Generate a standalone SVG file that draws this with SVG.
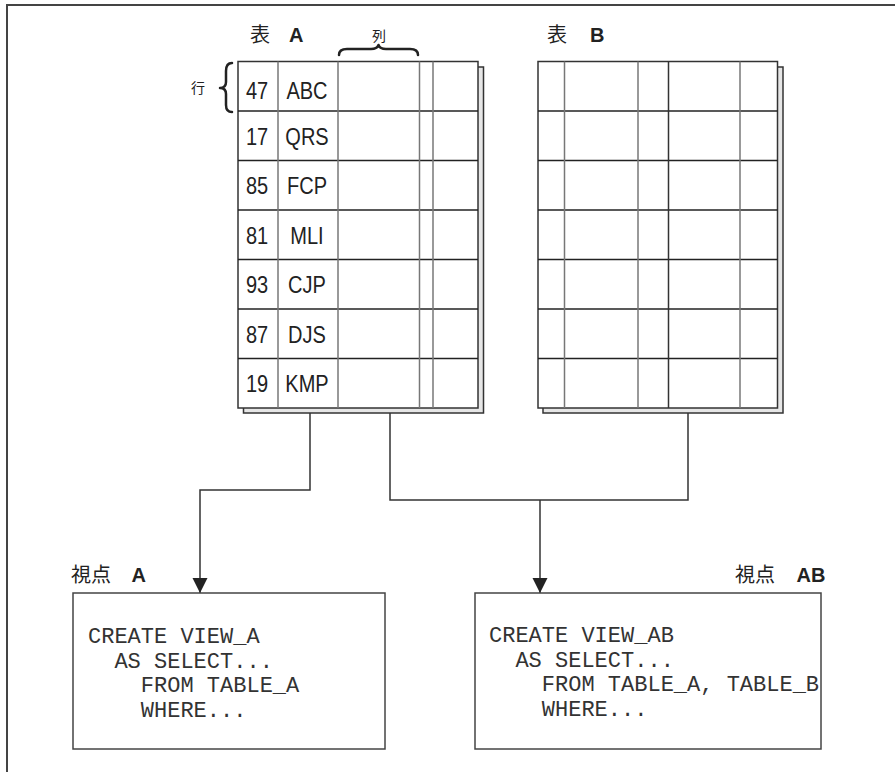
<svg xmlns="http://www.w3.org/2000/svg" width="895" height="772" viewBox="0 0 895 772">
<style>
.frame{fill:none;stroke:#444;stroke-width:2}
.shadow{fill:#e6e6e6;stroke:#333;stroke-width:1.5}
.tbl{fill:#fff;stroke:#333;stroke-width:1.5}
.hl{stroke:#222;stroke-width:1.5}
.vl{stroke:#777;stroke-width:1.5}
.cell{font-family:"Liberation Sans",Arial,sans-serif;font-size:20px;fill:#222;text-anchor:middle}
.cjk{font-family:"Noto Sans CJK JP","Noto Sans CJK SC",sans-serif;font-size:20px;fill:#222}
.cjks{font-family:"Noto Sans CJK JP","Noto Sans CJK SC",sans-serif;font-size:14px;fill:#222}
.bold{font-family:"Liberation Sans",Arial,sans-serif;font-size:20px;font-weight:bold;fill:#222}
.code{font-family:"Liberation Mono","Courier New",monospace;font-size:22px;fill:#333;white-space:pre}
.box{fill:#fff;stroke:#444;stroke-width:1.5}
.conn{fill:none;stroke:#333;stroke-width:1.5}
.brace{fill:none;stroke:#222;stroke-width:2.5;stroke-linecap:round;stroke-linejoin:round}
</style>
<defs>
<marker id="arr" markerWidth="16" markerHeight="19" refX="15" refY="7.5" orient="auto" markerUnits="userSpaceOnUse">
<path d="M0,0 L15,7.5 L0,15 Z" fill="#222"/>
</marker>
</defs>

<path class="frame" d="M7,772 V5 H895"/>

<g id="tableA">
<rect class="shadow" x="243.5" y="67" width="240" height="346"/>
<rect class="tbl" x="238" y="61.5" width="240" height="346.5"/>
<g class="hl">
<line x1="238" y1="111" x2="478" y2="111"/>
<line x1="238" y1="160.5" x2="478" y2="160.5"/>
<line x1="238" y1="210" x2="478" y2="210"/>
<line x1="238" y1="259.5" x2="478" y2="259.5"/>
<line x1="238" y1="309" x2="478" y2="309"/>
<line x1="238" y1="358.5" x2="478" y2="358.5"/>
</g>
<g class="vl">
<line x1="278" y1="61.5" x2="278" y2="408"/>
<line x1="338" y1="61.5" x2="338" y2="408"/>
<line x1="419.5" y1="61.5" x2="419.5" y2="408"/>
<line x1="433" y1="61.5" x2="433" y2="408"/>
</g>
<text class="cell" transform="translate(257,99) scale(1,1.2)">47</text>
<text class="cell" transform="translate(307,99) scale(1,1.2)">ABC</text>
<text class="cell" transform="translate(257,144.5) scale(1,1.2)">17</text>
<text class="cell" transform="translate(307,144.5) scale(1,1.2)">QRS</text>
<text class="cell" transform="translate(257,194) scale(1,1.2)">85</text>
<text class="cell" transform="translate(307,194) scale(1,1.2)">FCP</text>
<text class="cell" transform="translate(257,243.5) scale(1,1.2)">81</text>
<text class="cell" transform="translate(307,243.5) scale(1,1.2)">MLI</text>
<text class="cell" transform="translate(257,293) scale(1,1.2)">93</text>
<text class="cell" transform="translate(307,293) scale(1,1.2)">CJP</text>
<text class="cell" transform="translate(257,342.5) scale(1,1.2)">87</text>
<text class="cell" transform="translate(307,342.5) scale(1,1.2)">DJS</text>
<text class="cell" transform="translate(257,392) scale(1,1.2)">19</text>
<text class="cell" transform="translate(307,392) scale(1,1.2)">KMP</text>
</g>

<g id="labelA">
<text class="cjk" x="250" y="42">表</text>
<text class="bold" x="289" y="42">A</text>
</g>

<g id="colLabel">
<text class="cjks" x="372" y="41">列</text>
<path class="brace" d="M339,55 Q339,49 347,49 L371,49 Q377,49 378.5,45 Q380,49 386,49 L410,49 Q418,49 418,55"/>
</g>

<g id="rowLabel">
<text class="cjks" x="191" y="93">行</text>
<path class="brace" d="M232,63 Q226,63 226,71 L226,82 Q226,88 220,88 Q226,88 226,94 L226,105 Q226,112 232,112"/>
</g>

<g id="tableB">
<rect class="shadow" x="543" y="67" width="240" height="346"/>
<rect class="tbl" x="538" y="61.5" width="239.5" height="346.5"/>
<g class="hl">
<line x1="538" y1="111" x2="777.5" y2="111"/>
<line x1="538" y1="160.5" x2="777.5" y2="160.5"/>
<line x1="538" y1="210" x2="777.5" y2="210"/>
<line x1="538" y1="259.5" x2="777.5" y2="259.5"/>
<line x1="538" y1="309" x2="777.5" y2="309"/>
<line x1="538" y1="358.5" x2="777.5" y2="358.5"/>
</g>
<g class="vl">
<line x1="564.5" y1="61.5" x2="564.5" y2="408"/>
<line x1="638" y1="61.5" x2="638" y2="408"/>
<line x1="668.5" y1="61.5" x2="668.5" y2="408" style="stroke:#333"/>
<line x1="740" y1="61.5" x2="740" y2="408"/>
</g>
</g>

<g id="labelB">
<text class="cjk" x="547" y="42">表</text>
<text class="bold" x="590" y="42">B</text>
</g>

<g id="connectors">
<path class="conn" d="M310,413 V490 H200 V593" marker-end="url(#arr)"/>
<path class="conn" d="M390,413 V500 H688 V413"/>
<path class="conn" d="M540,500 V593" marker-end="url(#arr)"/>
</g>

<g id="viewA">
<text class="cjk" x="71" y="582">視点</text>
<text class="bold" x="131.5" y="582">A</text>
<rect class="box" x="73" y="593" width="312" height="156"/>
<text class="code" x="88" y="643">CREATE VIEW_A</text>
<text class="code" x="88" y="667.5">  AS SELECT...</text>
<text class="code" x="88" y="692">    FROM TABLE_A</text>
<text class="code" x="88" y="716.5">    WHERE...</text>
</g>

<g id="viewAB">
<text class="cjk" x="735" y="582">視点</text>
<text class="bold" x="796.5" y="582">AB</text>
<rect class="box" x="475" y="593" width="346" height="156"/>
<text class="code" x="489" y="642">CREATE VIEW_AB</text>
<text class="code" x="489" y="666.5">  AS SELECT...</text>
<text class="code" x="489" y="691">    FROM TABLE_A, TABLE_B</text>
<text class="code" x="489" y="715.5">    WHERE...</text>
</g>
</svg>
